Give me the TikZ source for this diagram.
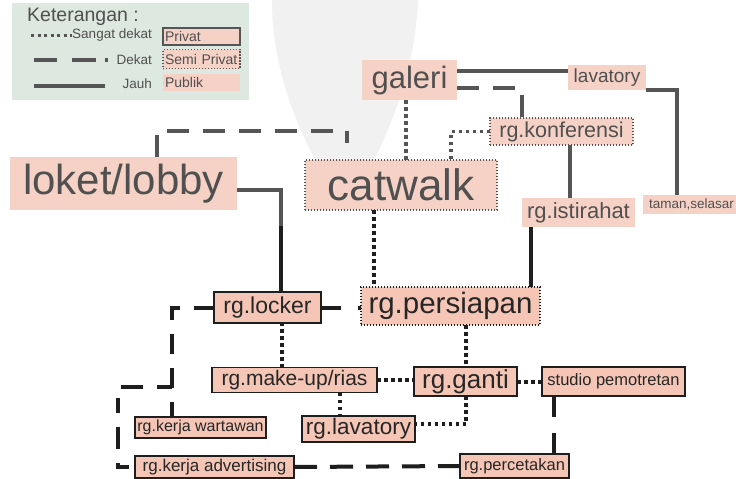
\documentclass[tikz,border=0pt]{standalone}
\usepackage{fontspec}
\setmainfont{Liberation Sans}
\definecolor{pinkup}{HTML}{F6D2C6}
\definecolor{pinklow}{HTML}{F5C6B6}
\definecolor{greyline}{HTML}{555555}
\definecolor{darkline}{HTML}{1E1E1E}
\definecolor{greytext}{HTML}{505050}
\definecolor{darktext}{HTML}{262626}
\definecolor{legendbg}{HTML}{DCE8E0}
\definecolor{emblem}{HTML}{F1F1F1}
\newcommand\fsz[1]{\fontsize{#1}{#1}\selectfont}
\begin{document}
\begin{tikzpicture}[x=1pt,y=-1pt,
  room/.style={inner sep=0pt, outer sep=0pt, anchor=center},
  pubup/.style={room, fill=pinkup, text=greytext},
  semiup/.style={room, fill=pinkup, text=greytext, draw=greyline, line width=1.4pt, dash pattern=on 1.4pt off 1.6pt},
  semilow/.style={room, fill=pinklow, text=darktext, draw=darkline, line width=1.4pt, dash pattern=on 1.4pt off 1.6pt},
  privlow/.style={room, fill=pinklow, text=darktext, draw=darkline, line width=1.8pt},
  solidup/.style={draw=greyline, line width=4pt},
  solidlow/.style={draw=darkline, line width=4pt},
  dashup/.style={draw=greyline, line width=4pt, dash pattern=on 22pt off 14pt},
  dashlow/.style={draw=darkline, line width=4pt, dash pattern=on 22pt off 14pt},
  dotup/.style={draw=greyline, line width=3.5pt, dash pattern=on 3.5pt off 3.5pt},
  dotlow/.style={draw=darkline, line width=3.5pt, dash pattern=on 3.5pt off 3.5pt},
  legtext/.style={anchor=east, text=greytext, font=\fsz{13.5}, inner sep=0pt},
  legbox/.style={inner xsep=2pt, inner ysep=0pt, outer sep=0pt, text width=73pt, align=left,
    minimum height=17pt, anchor=north west, fill=pinkup, text=greytext, font=\fsz{14}}
]
\useasboundingbox (0,0) rectangle (736,479);
\clip (0,0) rectangle (736,479);
\fill[white] (0,0) rectangle (736,479);

% faint emblem in the background
\fill[emblem] (272,0) .. controls (272,95) and (318,165) .. (345,215)
  .. controls (372,165) and (414,95) .. (418,0) -- cycle;

% legend
\fill[legendbg] (12,3) rectangle (249,100);
\node[anchor=west, text=greytext, font=\fsz{19.5}, inner sep=0pt] (ket) at (27,17) {Keterangan :};
\draw[dotup, line width=3pt, dash pattern=on 3pt off 3.5pt] (31,35) -- (72,35);
\node[legtext] (lsd) at (152,35) {Sangat dekat};
\draw[draw=greyline, line width=4pt, dash pattern=on 23pt off 15pt on 24pt off 9pt on 2.5pt off 20pt] (34,60) -- (108,60);
\node[legtext] (ld) at (152,60) {Dekat};
\draw[solidup] (34,86) -- (105,86);
\node[legtext] (lj) at (152,84) {Jauh};
\node[legbox, draw=greyline, line width=1.8pt] (lpriv) at (163,28) {Privat};
\node[legbox, draw=greyline, line width=1.4pt, dash pattern=on 1.4pt off 1.6pt, minimum height=19pt] (lsemi) at (163,49.5) {Semi Privat};
\node[legbox] (lpub) at (163,74) {Publik};

% rooms, upper part
\node[pubup, minimum width=95pt, minimum height=40pt, font=\fsz{31}] (galeri) at (409.5,80) {galeri};
\node[pubup, minimum width=78pt, minimum height=25pt, font=\fsz{19}] (lavatory) at (607,77.5) {lavatory};
\node[semiup, minimum width=143pt, minimum height=27pt, font=\fsz{21.5}] (konf) at (561.5,131.5) {rg.konferensi};
\node[semiup, minimum width=192pt, minimum height=50pt, font=\fsz{44}] (catwalk) at (401,185) {catwalk};
\node[pubup, minimum width=227pt, minimum height=53pt, font=\fsz{42}] (loket) at (123.5,183.5) {loket/lobby};
\node[pubup, minimum width=113pt, minimum height=29pt, font=\fsz{22}] (istirahat) at (578.5,212.5) {rg.istirahat};
\node[pubup, minimum width=97pt, minimum height=19pt, font=\fsz{13.5}, anchor=west] (taman) at (643,204) {taman,selasar};

% rooms, lower part
\node[privlow, minimum width=107pt, minimum height=31pt, font=\fsz{23}] (locker) at (267.5,307.5) {rg.locker};
\node[semilow, minimum width=179pt, minimum height=38pt, font=\fsz{29.5}] (persiapan) at (450.5,306) {rg.persiapan};
\node[privlow, minimum width=165pt, minimum height=25pt, font=\fsz{21}] (makeup) at (294.5,380) {rg.make-up/rias};
\node[privlow, minimum width=103pt, minimum height=29pt, font=\fsz{26}] (ganti) at (465.5,381.5) {rg.ganti};
\node[privlow, minimum width=143pt, minimum height=29pt, font=\fsz{16.5}] (studio) at (613.5,381.5) {studio pemotretan};
\node[privlow, minimum width=131pt, minimum height=21pt, font=\fsz{16}] (wartawan) at (200.5,427.5) {rg.kerja wartawan};
\node[privlow, minimum width=113pt, minimum height=26pt, font=\fsz{22.5}] (lav2) at (358.5,429) {rg.lavatory};
\node[privlow, minimum width=159pt, minimum height=22pt, font=\fsz{17}] (advertising) at (214.5,467) {rg.kerja advertising};
\node[privlow, minimum width=109pt, minimum height=24pt, font=\fsz{16.5}] (percetakan) at (514.5,466) {rg.percetakan};

% connectors, upper part
\draw[solidup] (galeri.east |- 0,71) -- (lavatory.west |- 0,71);
\draw[dashup] (galeri.east |- 0,88) -| (konf.north -| 522,0);
\draw[solidup] (lavatory.east |- 0,90) -| (taman.north -| 677,0);
\draw[dotup] (galeri.south -| 406,0) -- (catwalk.north -| 406,0);
\draw[dotup] (konf.west) -| (catwalk.north -| 451,0);
\draw[solidup] (konf.south -| 570,0) -- (istirahat.north -| 570,0);
\draw[dashup, shorten >=17pt] (loket.north -| 157,0) -- (157,131) -| (catwalk.north -| 347,0);
\draw[solidup] (loket.east |- 0,190) -| (locker.north -| 281,0);
% the lower stretch of the same line is darker
\draw[solidlow] (locker.north -| 281,0) -- ++(0,-66);

% connectors, lower part
\draw[dotlow] (catwalk.south -| 374,0) -- (persiapan.north -| 374,0);
\draw[solidlow] (istirahat.south -| 531,0) -- (persiapan.north -| 531,0);
\draw[dashlow, dash pattern=on 20pt off 17pt] (locker.east) -- (persiapan.west |- locker.east);
\draw[dashlow, dash pattern=on 20pt off 14pt] (locker.west) -| (wartawan.north -| 172,0);
\coordinate (tj) at (172,387);
\draw[dashlow, dash pattern=on 15pt off 14pt on 22pt off 14pt] (tj) -- (118,387) |- (advertising.west);
\draw[dotlow] (makeup.north -| 282,0) -- (locker.south -| 282,0);
\draw[dotlow] (makeup.east |- 0,380) -- (ganti.west |- 0,380);
\draw[dotlow] (persiapan.south -| 466,0) -- (ganti.north -| 466,0);
\draw[dotlow] (ganti.east |- 0,382) -- (studio.west |- 0,382);
\draw[dotlow] (ganti.south -| 466,0) |- (lav2.east |- 0,424);
\draw[dotlow] (makeup.south -| 340,0) -- (lav2.north -| 340,0);
\draw[dashlow, dash pattern=on 21pt off 16pt] (studio.south -| 554,0) -- (percetakan.north -| 554,0);
\draw[dashlow, dash pattern=on 23pt off 13pt] (advertising.east) -- (percetakan.west);
\end{tikzpicture}
\end{document}
